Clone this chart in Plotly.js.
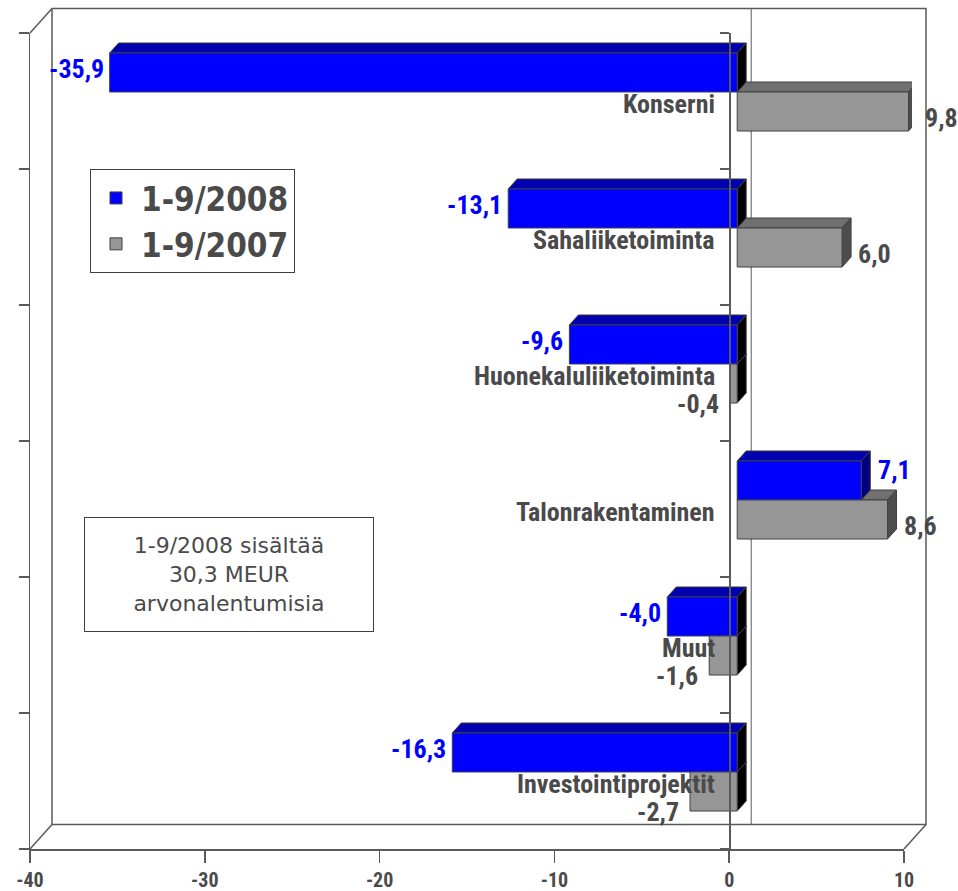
<!DOCTYPE html>
<html><head><meta charset="utf-8">
<script src="https://cdn.plot.ly/plotly-3.0.1.min.js"></script>
<style>html,body{margin:0;padding:0;background:#fff}</style>
</head><body><div id="chart" style="width:958px;height:891px"></div>
<script>
// ---------- data ----------
const categories = ['Konserni','Sahaliiketoiminta','Huonekaluliiketoiminta','Talonrakentaminen','Muut','Investointiprojektit'];
const seriesNames = ['1-9/2008','1-9/2007'];
const values2008 = [-35.9,-13.1,-9.6,7.1,-4.0,-16.3];
const values2007 = [9.8,6.0,-0.4,8.6,-1.6,-2.7];
const xTickValues = [-40,-30,-20,-10,0,10];
const xTickLabels = ['-40','-30','-20','-10','0','10'];
const noteLines = ['1-9/2008 sisältää','30,3 MEUR','arvonalentumisia'];

// ---------- geometry / style ----------
const W=958,H=891;
const X_RANGE=[-40,10];
const n=categories.length;
const Y_RANGE=[n-0.5,-0.5];
const front={l:30,r:904,t:33,b:849};
const barShift={x:8,y:-9};
const backShift={x:22,y:-24.5};
const depth={x:9,y:-10};
const fx=p=>p/W, fy=p=>(H-p)/H;
const pxPerX=(front.r-front.l)/(X_RANGE[1]-X_RANGE[0]);
const pxPerY=(front.b-front.t)/n;
const BW=0.287;
const lineCol='#5a5a5a', textCol='#4a4a4a', edgeCol='#404040';
const narrow='Noto Sans ExtraCondensed, Noto Sans Condensed, Roboto Condensed, Liberation Sans Narrow, DejaVu Sans Condensed, sans-serif';

const idx=categories.map((c,i)=>i);
const boundaries=categories.map((c,i)=>i-0.5).concat([n-0.5]);
const series=[
  {name:seriesNames[0],vals:values2008,offset:-BW,front:'#0000FF',top:'#0000AE',endPos:'#00007F',endNeg:'#000000',label:'#0000FF'},
  {name:seriesNames[1],vals:values2007,offset:0,front:'#969696',top:'#707070',endPos:'#4d4d4d',endNeg:'#000000',label:textCol}
];

const traces=series.map(s=>({
  type:'bar',orientation:'h',name:s.name,x:s.vals,y:idx,width:BW,offset:s.offset,
  marker:{color:s.front,line:{color:edgeCol,width:1}},xaxis:'x',yaxis:'y',hoverinfo:'x+name'
}));
traces.push({type:'scatter',mode:'markers',x:[],y:[],xaxis:'x2',yaxis:'y2',showlegend:false,hoverinfo:'skip'});
traces.push({type:'scatter',mode:'markers',x:[],y:[],xaxis:'x2',yaxis:'y3',showlegend:false,hoverinfo:'skip'});

// ---------- shapes ----------
const shapes=[];
const pline=(x0,y0,x1,y1)=>({type:'line',xref:'paper',yref:'paper',x0:fx(x0),y0:fy(y0),x1:fx(x1),y1:fy(y1),line:{color:lineCol,width:1.5},layer:'below'});
const bl={l:front.l+backShift.x,r:front.r+backShift.x,t:front.t+backShift.y,b:front.b+backShift.y};
shapes.push({type:'rect',xref:'paper',yref:'paper',x0:fx(bl.l),x1:fx(bl.r),y0:fy(bl.b),y1:fy(bl.t),line:{color:lineCol,width:1.5},fillcolor:'rgba(0,0,0,0)',layer:'below'});
shapes.push(pline(front.l,front.t,bl.l,bl.t));
shapes.push(pline(front.l,front.b,bl.l,bl.b));
shapes.push(pline(front.r,front.b,bl.r,bl.b));
const backZero=bl.l+(0-X_RANGE[0])*pxPerX;
shapes.push({type:'line',xref:'paper',yref:'paper',x0:fx(backZero),x1:fx(backZero),y0:fy(bl.b),y1:fy(bl.t),line:{color:lineCol,width:1},layer:'below'});

// 3D faces of bars (gray first, blue drawn over it)
const dx=depth.x/pxPerX;
const dyv=depth.y/pxPerY; // reversed y axis: smaller value = higher on screen
[1,0].forEach(si=>{
  const s=series[si];
  s.vals.forEach((v,i)=>{
    const y0=i+s.offset, y1=y0+BW;
    const xl=Math.min(0,v), xr=Math.max(0,v);
    shapes.push({type:'path',xref:'x',yref:'y',layer:'below',
      path:`M${xl},${y0} L${xr},${y0} L${xr+dx},${y0+dyv} L${xl+dx},${y0+dyv} Z`,
      fillcolor:s.top,line:{color:edgeCol,width:1}});
    shapes.push({type:'path',xref:'x',yref:'y',layer:'below',
      path:`M${xr},${y0} L${xr+dx},${y0+dyv} L${xr+dx},${y1+dyv} L${xr},${y1} Z`,
      fillcolor:v<0?s.endNeg:s.endPos,line:{color:edgeCol,width:1}});
  });
});

// ---------- annotations ----------
const fmt=v=>v.toFixed(1).replace('.',',');
const annotations=[];
series.forEach((s,si)=>{
  s.vals.forEach((v,i)=>{
    const yc=i+s.offset+BW/2;
    let a={xref:'x',yref:'y',x:v,y:yc,text:fmt(v),showarrow:false,
      font:{family:narrow,size:26,weight:'bold',color:s.label}};
    if(si===0){
      if(v<0) Object.assign(a,{xanchor:'right',xshift:-4,yshift:3});
      else Object.assign(a,{xanchor:'left',xshift:15,yshift:10});
    } else {
      if(v<0) Object.assign(a,{xanchor:'right',xshift:-9,yshift:-20});
      else Object.assign(a,{xanchor:'left',xshift:14,yshift:-6});
    }
    annotations.push(a);
  });
});
categories.forEach((c,i)=>{
  annotations.push({xref:'x2',yref:'y2',x:0,y:i,text:c,showarrow:false,xanchor:'right',yanchor:'middle',
    xshift:-12,yshift:-3,font:{family:narrow,size:26,weight:'bold',color:textCol}});
});
annotations.push({xref:'paper',yref:'paper',x:fx(84),y:fy(517),xanchor:'left',yanchor:'top',
  width:288,height:113,text:noteLines.join('<br>'),showarrow:false,align:'center',valign:'middle',
  bordercolor:edgeCol,borderwidth:1,borderpad:0,bgcolor:'#ffffff',
  font:{family:'DejaVu Sans, Verdana, sans-serif',size:22,color:textCol}});

// ---------- layout ----------
const layout={
  width:W,height:H,margin:{l:0,r:0,t:0,b:0},
  paper_bgcolor:'#ffffff',plot_bgcolor:'rgba(0,0,0,0)',
  barmode:'overlay',showlegend:true,
  xaxis:{domain:[fx(front.l+barShift.x),fx(front.r+barShift.x)],range:X_RANGE,visible:false,fixedrange:true},
  yaxis:{domain:[fy(front.b+barShift.y),fy(front.t+barShift.y)],range:Y_RANGE,visible:false,fixedrange:true},
  xaxis2:{domain:[fx(front.l),fx(front.r)],range:X_RANGE,anchor:'y2',tickmode:'array',tickvals:xTickValues,ticktext:xTickLabels,
    ticks:'outside',ticklen:12,tickwidth:1.5,tickcolor:lineCol,showline:true,linecolor:lineCol,linewidth:1.5,
    showgrid:false,zeroline:false,ticklabelstandoff:0,
    tickfont:{family:narrow,size:20,weight:'bold',color:textCol}},
  yaxis2:{domain:[fy(front.b),fy(front.t)],range:Y_RANGE,anchor:'x2',tickmode:'array',tickvals:boundaries,
    showticklabels:false,ticks:'outside',ticklen:10,tickwidth:1.5,tickcolor:lineCol,showline:true,linecolor:lineCol,
    linewidth:1.5,showgrid:false,zeroline:false},
  yaxis3:{overlaying:'y2',anchor:'free',position:fx(front.l+(0-X_RANGE[0])*pxPerX),range:Y_RANGE,tickmode:'array',
    tickvals:boundaries,showticklabels:false,ticks:'outside',ticklen:9,tickwidth:1.5,tickcolor:lineCol,
    showline:true,linecolor:lineCol,linewidth:1.5,showgrid:false,zeroline:false,side:'left'},
  legend:{x:fx(90),y:fy(169),xanchor:'left',yanchor:'top',bordercolor:edgeCol,borderwidth:1,bgcolor:'#ffffff',
    font:{family:'DejaVu Sans Condensed, DejaVu Sans, sans-serif',size:33,weight:'bold',color:textCol},
    itemwidth:40,tracegroupgap:0},
  shapes:shapes,annotations:annotations
};
Plotly.newPlot('chart',traces,layout,{displayModeBar:false,staticPlot:true});
</script></body></html>
